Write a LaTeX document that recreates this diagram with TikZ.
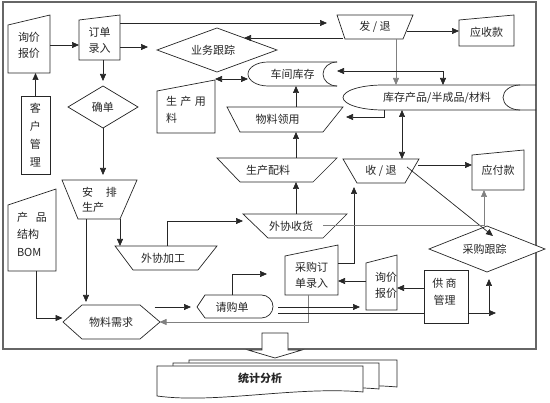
\documentclass[tikz,border=0pt]{standalone}
\usepackage{fontspec}
\setmainfont{Noto Sans CJK SC}
\usetikzlibrary{arrows.meta,shapes.geometric,calc}
\begin{document}
\begin{tikzpicture}[x=1pt,y=-1pt,
  ln/.style={draw=black!85, line width=0.7pt},
  arr/.style={ln, -{Triangle[length=7pt,width=6pt]}},
  darr/.style={ln, {Triangle[length=7pt,width=6pt]}-{Triangle[length=7pt,width=6pt]}},
  garr/.style={draw=black!50, line width=0.6pt, -{Triangle[length=7pt,width=6pt]}},
  gln/.style={draw=black!50, line width=0.6pt},
  lbl/.style={inner sep=0pt, outer sep=0pt, align=center, text=black!85, font=\fontsize{11pt}{16pt}\selectfont},
  shp/.style={ln, fill=white},
  dia/.style={lbl, shp, diamond, aspect=2.5},
  framest/.style={draw=black!60, line width=1.2pt}]
\useasboundingbox (0,0) rectangle (550,403);
% frame
\draw[framest] (3,2) rectangle (536,349);

% ---- shapes (outlines) ----
\draw[shp] (8,25) -- (50,15) -- (50,73) -- (8,73) -- cycle;        % xj1
\draw[shp] (79,20) -- (120,15) -- (120,60) -- (79,60) -- cycle;     % dd
\draw[shp] (62,180) -- (137,180) -- (120,219) -- (78,219) -- cycle; % apsc
\draw[shp] (8,205) -- (56,189) -- (56,271) -- (8,271) -- cycle;     % bom
\draw[shp] (115,246) -- (217,246) -- (198,270) -- (133,270) -- cycle; % wxjg
\draw[shp] (63,322) -- (82,305) -- (140,305) -- (160,322) -- (140,339) -- (82,339) -- cycle; % wlxq
\draw[shp] (197,307) -- (205,295) -- (261.5,295) arc[start angle=90,end angle=-90,radius=11.5pt] -- (205,318) -- cycle; % qgd
\draw[shp] (285,256) -- (338,245) -- (338,295) -- (285,295) -- cycle; % cgdd
\draw[shp] (366,263) -- (397,255) -- (397,310) -- (366,310) -- cycle; % xj2
\draw[shp] (472,155) -- (524,150) -- (524,190) -- (472,190) -- cycle; % yfk
\draw[shp] (343,159) -- (419,159) -- (405,183) -- (357,183) -- cycle; % st
\draw[shp] (227,107) -- (343,107) -- (323,132) -- (240,132) -- cycle; % wlly
\draw[shp] (157,91) -- (215,80) -- (215,133) -- (157,133) -- cycle;   % scyl
\draw[shp] (337,15) -- (413,15) -- (403,39) -- (345,39) -- cycle;     % ft
\draw[shp] (459,20) -- (514,15) -- (514,46) -- (459,46) -- cycle;     % ysk
\draw[shp] (217,158) -- (337,158) -- (313,182) -- (240,182) -- cycle; % scpl
\draw[shp] (243,214) -- (347,214) -- (323,238) -- (268,238) -- cycle; % wxsh
% kccp (storage)
\draw[ln] (536,85) -- (383,85) arc[start angle=90,end angle=270,x radius=40pt,y radius=12.5pt] -- (536,110);
\draw[ln] (520,85) arc[start angle=90,end angle=270,x radius=17pt,y radius=12.5pt];
% cjkc (storage)
\draw[ln] (337,62) -- (268,62) arc[start angle=90,end angle=270,x radius=20pt,y radius=12pt] -- (337,86);
\draw[ln] (337,62) arc[start angle=90,end angle=270,x radius=14pt,y radius=12pt];

% ---- nodes ----
\node[lbl, minimum width=42pt, minimum height=56pt] (xj1) at (29,45) {询价\\报价};
\node[lbl, minimum width=41pt, minimum height=40pt] (dd) at (99.5,40) {订单\\录入};
\node[lbl, shp, rectangle, minimum width=29pt, minimum height=78pt, font=\fontsize{11pt}{18pt}\selectfont] (kh) at (35.5,135) {客\\户\\管\\理};
\node[dia, minimum width=70pt, minimum height=42pt] (qd) at (103,107) {确单};
\node[lbl, align=left, minimum width=75pt, minimum height=38pt, font=\fontsize{11pt}{15pt}\selectfont] (apsc) at (99.5,200) {安\hspace{13pt}排\\生产};
\node[lbl, align=left, minimum width=48pt, minimum height=74pt, font=\fontsize{11pt}{17.5pt}\selectfont] (bom) at (32,234) {产\hspace{8pt}品\\结构\\BOM};
\node[lbl, minimum width=102pt, minimum height=24pt] (wxjg) at (166,258) {外协加工\hspace*{6pt}};
\node[lbl, minimum width=97pt, minimum height=34pt] (wlxq) at (111,322) {物料需求};
\node[lbl, minimum width=76pt, minimum height=23pt] (qgd) at (235,307) {请购单\hspace*{6pt}};
\node[lbl, minimum width=53pt, minimum height=40pt] (cgdd) at (311.5,275) {采购订\\单录入};
\node[lbl, minimum width=31pt, minimum height=50pt] (xj2) at (381.5,285) {\hspace*{9pt}询价\\\hspace*{9pt}报价};
\node[lbl, shp, rectangle, minimum width=44pt, minimum height=53pt] (gsgl) at (446,296.5) {};
\node[lbl, font=\fontsize{11pt}{17pt}\selectfont] (gsglt) at (444.5,291.5) {供 商\\管理};
\node[dia, minimum width=116pt, minimum height=46pt] (cggz) at (487,249) {采购跟踪\hspace*{5pt}};
\node[lbl, minimum width=52pt, minimum height=40pt] (yfk) at (498,170) {应付款};
\node[lbl, minimum width=76pt, minimum height=24pt] (st) at (381,171) {收 / 退};
\node[lbl, minimum width=193pt, minimum height=25pt] (kccp) at (439.5,97.5) {库存产品/半成品/材料\hspace*{5pt}};
\node[lbl, minimum width=89pt, minimum height=24pt] (cjkc) at (292.5,74) {车间库存};
\node[lbl, minimum width=116pt, minimum height=25pt] (wlly) at (285,119.5) {物料领用\hspace*{15pt}};
\node[lbl, align=left, minimum width=58pt, minimum height=46pt, font=\fontsize{11pt}{17pt}\selectfont] (scyl) at (186,110) {生\hspace{3.5pt}产\hspace{3.5pt}用\\料};
\node[dia, minimum width=120pt, minimum height=44pt] (ywgz) at (217,50) {业务跟踪\hspace*{8pt}};
\node[lbl, minimum width=76pt, minimum height=24pt] (ft) at (375,27) {发 / 退};
\node[lbl, minimum width=55pt, minimum height=30pt] (ysk) at (486.5,32) {应收款};
\node[lbl, minimum width=120pt, minimum height=24pt] (scpl) at (277,170) {生产配料\hspace*{18pt}};
\node[lbl, minimum width=104pt, minimum height=24pt] (wxsh) at (295,226) {外协收货\hspace*{8pt}};

% ---- connectors ----
\draw[arr] (kh.north) -- (kh.north |- xj1.south);
\draw[arr] (xj1.east) -- (xj1.east -| dd.west);
\draw[arr, shorten >=5pt] (qd.north |- dd.south) -- (qd.north);
\coordinate (p1) at ([yshift=-7pt]dd.east);
\draw[arr, shorten >=9pt] (p1) -- (p1 -| ywgz.west);
\coordinate (p2) at ([yshift=17pt]dd.east);
\draw[arr, shorten >=10pt] (p2) -- (p2 -| ft.west);
\coordinate (p3) at ([xshift=6pt,yshift=-11pt]ft.west);
\draw[arr, shorten >=27pt] (p3) -- (p3 -| ywgz.center);
\coordinate (p4) at ([xshift=-6pt,yshift=-4pt]ft.east);
\draw[arr] (p4) -- (p4 -| ysk.west);
\coordinate (p5) at ([xshift=21pt]ft.south);
\draw[garr] (p5) -- (p5 |- kccp.north);
\coordinate (p6) at ([xshift=3.5pt]kccp.north);
\draw[darr] (p6) |- ([yshift=3pt]cjkc.east);
\coordinate (p7) at ([xshift=-55.5pt]kccp.south);
\draw[arr, shorten >=3pt] (p7) |- ([yshift=2.5pt]wlly.east);
\coordinate (p8) at ([xshift=-37.5pt]kccp.south);
\draw[darr] (p8) -- (p8 |- st.north);
\coordinate (p9) at ([xshift=11pt]wlly.north);
\draw[arr] (p9) -- (p9 |- cjkc.south);
\coordinate (p10) at ([yshift=-5pt]cjkc.west);
\draw[darr] (p10 -| scyl.east) -- (p10);
\coordinate (p11) at ([xshift=19pt]scpl.north);
\draw[arr] (p11) -- (p11 |- wlly.south);
\coordinate (p12) at ([xshift=1pt]wxsh.north);
\draw[arr] (p12) -- (p12 |- scpl.south);
\coordinate (p13) at ([xshift=1pt]wxjg.north);
\draw[arr] (p13) |- ([yshift=5pt]wxsh.west);
\coordinate (p14) at ([xshift=20.5pt]apsc.south);
\draw[arr] (p14) -- (p14 |- wxjg.north);
\draw[arr, shorten >=6pt] (qd.south) -- (qd.south |- apsc.north);
\coordinate (p15) at ([xshift=-13.5pt]apsc.south);
\draw[arr, shorten >=3pt] (p15) -- (p15 |- wlxq.north);
\coordinate (p16) at ([xshift=4pt]bom.south);
\draw[arr] (p16) |- ([yshift=4pt]wlxq.west);
\coordinate (p17) at ([xshift=-5pt,yshift=15pt]wlxq.east);
\draw[arr, shorten >=6pt] (p17) -- (p17 -| qgd.west);
\coordinate (p18) at ([xshift=-3pt]cgdd.south);
\draw[garr] (p18) |- (wlxq.east);
\coordinate (p19) at ([xshift=-3pt]qgd.north);
\draw[arr, shorten >=18pt] (p19) |- ([yshift=1pt]cgdd.west);
\coordinate (p20) at ([xshift=5pt]qgd.east);
\draw[arr, shorten >=6pt] (p20) -- (p20 -| xj2.west);
\coordinate (p21) at ([xshift=5pt,yshift=-6pt]qgd.east);
\draw[ln] (p21) -- (p21 -| gsgl.west);
\coordinate (p22) at ([yshift=4pt]xj2.west);
\draw[arr] (p22) -- (p22 -| cgdd.east);
\coordinate (p23) at ([yshift=-3pt]xj2.east);
\draw[arr] (p23 -| gsgl.west) -- (p23);
\coordinate (gsr) at (496,313);
\coordinate (gsu) at (489,279);
\draw[arr] (p21 -| gsgl.east) -- (gsr);
\draw[arr] (gsu |- p21) -- (gsu);
\coordinate (p24) at ([yshift=12pt]cgdd.east);
\draw[arr] (p24) -| ([xshift=-27pt,yshift=-4pt]st.south);
\coordinate (p25) at ([xshift=-1pt,yshift=6pt]st.east);
\draw[arr] (p25) -- (p25 -| yfk.west);
\draw[arr] ([xshift=-12pt,yshift=4pt]st.east) -- ([xshift=6pt,yshift=-10pt]cggz.north);
\coordinate (p26) at ([xshift=-24pt,yshift=1pt]wxsh.east);
\coordinate (p27) at ([xshift=-3pt]cggz.north);
\draw[gln] (p26) -- (p26 -| p27);
\draw[garr] (p27) -- (p27 |- yfk.south);

% ---- bottom: block arrow and stacked documents ----
\draw[shp] (262,333) -- (288,333) -- (288,350) -- (302,350) -- (275,358) -- (248,350) -- (262,350) -- cycle;
\draw[shp] (189,360) -- (397,360) -- (397,387) .. controls (330,381) and (250,396) .. (189,388) -- cycle;
\draw[shp] (173,363) -- (379,363) -- (379,389) .. controls (312,383) and (232,399) .. (173,391) -- cycle;
\draw[shp] (157,366) -- (363,366) -- (363,392) .. controls (296,386) and (216,404) .. (157,396) -- cycle;
\node[lbl, font=\fontsize{11pt}{16pt}\selectfont\bfseries] (tjfx) at (260,378) {统计分析};
\end{tikzpicture}
\end{document}
